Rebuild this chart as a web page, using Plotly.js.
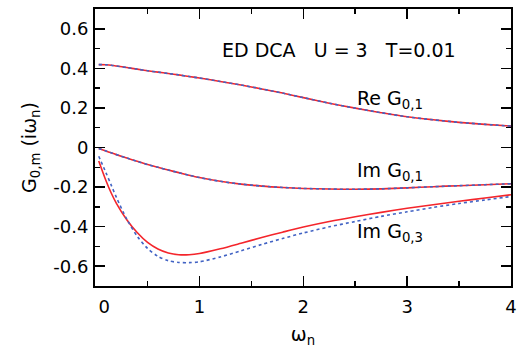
<!DOCTYPE html>
<html>
<head>
<meta charset="utf-8">
<script src="https://cdn.plot.ly/plotly-3.0.1.min.js"></script>
<style>html,body{margin:0;padding:0;background:#fff;}#chart{width:520px;height:348px;}</style>
</head>
<body>
<div id="chart"></div>
<script>
// Matsubara frequencies
const omega = [0.03, 0.1, 0.15, 0.2, 0.3, 0.4, 0.5, 0.6, 0.7, 0.8, 0.9, 1.0, 1.2, 1.4, 1.6, 1.8, 2.0, 2.25, 2.5, 2.75, 3.0, 3.25, 3.5, 3.75, 4.0];

// Red solid curves
const reG01_red = [0.419, 0.418, 0.416, 0.412, 0.404, 0.396, 0.388, 0.381, 0.374, 0.367, 0.359, 0.351, 0.334, 0.316, 0.296, 0.275, 0.252, 0.224, 0.199, 0.176, 0.155, 0.140, 0.127, 0.117, 0.108];
const imG01_red = [-0.005, -0.018, -0.027, -0.036, -0.053, -0.070, -0.086, -0.100, -0.114, -0.127, -0.140, -0.152, -0.171, -0.185, -0.195, -0.202, -0.207, -0.210, -0.211, -0.209, -0.204, -0.198, -0.193, -0.188, -0.183];
const imG03_red = [-0.068, -0.168, -0.230, -0.282, -0.365, -0.430, -0.480, -0.513, -0.533, -0.542, -0.542, -0.536, -0.512, -0.484, -0.455, -0.428, -0.402, -0.374, -0.350, -0.328, -0.307, -0.289, -0.272, -0.255, -0.239];

// Blue dashed curves
const reG01_blue = [0.419, 0.418, 0.416, 0.412, 0.404, 0.396, 0.388, 0.381, 0.374, 0.367, 0.359, 0.351, 0.334, 0.316, 0.296, 0.275, 0.252, 0.224, 0.199, 0.176, 0.155, 0.140, 0.127, 0.117, 0.108];
const imG01_blue = [-0.005, -0.018, -0.027, -0.036, -0.053, -0.070, -0.086, -0.100, -0.114, -0.127, -0.140, -0.152, -0.171, -0.185, -0.195, -0.202, -0.207, -0.210, -0.211, -0.209, -0.204, -0.198, -0.193, -0.188, -0.183];
const imG03_blue = [-0.044, -0.128, -0.190, -0.252, -0.362, -0.448, -0.510, -0.550, -0.572, -0.581, -0.582, -0.578, -0.553, -0.522, -0.490, -0.460, -0.432, -0.401, -0.374, -0.348, -0.325, -0.303, -0.283, -0.265, -0.248];

const xTickVals = [0, 1, 2, 3, 4];
const xTickText = ['\u00a0\u00a0\u00a00', '1', '2', '3', '4'];
const yTickVals = [-0.6, -0.4, -0.2, 0, 0.2, 0.4, 0.6];
const yTickText = ['-0.6', '-0.4', '-0.2', '0', '0.2', '0.4', '0.6'];

const RED = '#f4252b';
const BLUE = '#4263c4';
const FONT = 'DejaVu Sans, Verdana, sans-serif';

function red(y) {
  return {x: omega, y: y, type: 'scatter', mode: 'lines',
          line: {color: RED, width: 1.6, shape: 'spline', smoothing: 0.8}, hoverinfo: 'skip'};
}
function blue(y) {
  return {x: omega, y: y, type: 'scatter', mode: 'lines',
          line: {color: BLUE, width: 1.6, dash: '3px,3px', shape: 'spline', smoothing: 0.8}, hoverinfo: 'skip'};
}

const traces = [red(reG01_red), red(imG01_red), red(imG03_red),
                blue(reG01_blue), blue(imG01_blue), blue(imG03_blue)];

const axisCommon = {
  showline: true, linecolor: '#000', linewidth: 2, mirror: 'ticks',
  ticks: 'inside', ticklen: 10, tickwidth: 1.5, tickcolor: '#000',
  showgrid: false, zeroline: false,
  tickfont: {family: FONT, size: 18, color: '#000'},
};

const layout = {
  width: 520, height: 348,
  margin: {l: 95, r: 9, t: 9, b: 62, pad: 0},
  paper_bgcolor: '#fff', plot_bgcolor: '#fff',
  showlegend: false,
  font: {family: FONT, color: '#000'},
  xaxis: Object.assign({}, axisCommon, {
    range: [-0.006, 4.0], tickmode: 'array', tickvals: xTickVals, ticktext: xTickText,
    ticklabelstandoff: 3,
    minor: {dtick: 0.5, ticks: 'inside', ticklen: 5, tickwidth: 1.5, tickcolor: '#000', showgrid: false},
    title: {text: 'ω<sub>n</sub>', font: {family: FONT, size: 19, color: '#000'}, standoff: 22}
  }),
  yaxis: Object.assign({}, axisCommon, {
    range: [-0.7, 0.7], tickmode: 'array', tickvals: yTickVals, ticktext: yTickText,
    ticklabelstandoff: 1,
    minor: {dtick: 0.1, ticks: 'inside', ticklen: 5, tickwidth: 1.5, tickcolor: '#000', showgrid: false},
    title: {text: 'G<sub>0,m</sub> (iω<sub>n</sub>)', font: {family: FONT, size: 19, color: '#000'}, standoff: 12}
  }),
  annotations: [
    {xref: 'paper', yref: 'paper', x: 0.30, y: 0.853, xanchor: 'left', yanchor: 'middle', showarrow: false,
     text: 'ED DCA\u00a0\u00a0\u00a0U = 3\u00a0\u00a0\u00a0T=0.01', font: {family: FONT, size: 19, color: '#000'}},
    {xref: 'paper', yref: 'paper', x: 0.625, y: 0.675, xanchor: 'left', yanchor: 'middle', showarrow: false,
     text: 'Re G<sub>0,1</sub>', font: {family: FONT, size: 19, color: '#000'}},
    {xref: 'paper', yref: 'paper', x: 0.625, y: 0.413, xanchor: 'left', yanchor: 'middle', showarrow: false,
     text: 'Im G<sub>0,1</sub>', font: {family: FONT, size: 19, color: '#000'}},
    {xref: 'paper', yref: 'paper', x: 0.625, y: 0.193, xanchor: 'left', yanchor: 'middle', showarrow: false,
     text: 'Im G<sub>0,3</sub>', font: {family: FONT, size: 19, color: '#000'}}
  ]
};

Plotly.newPlot('chart', traces, layout, {staticPlot: true, displayModeBar: false});
</script>
</body>
</html>
